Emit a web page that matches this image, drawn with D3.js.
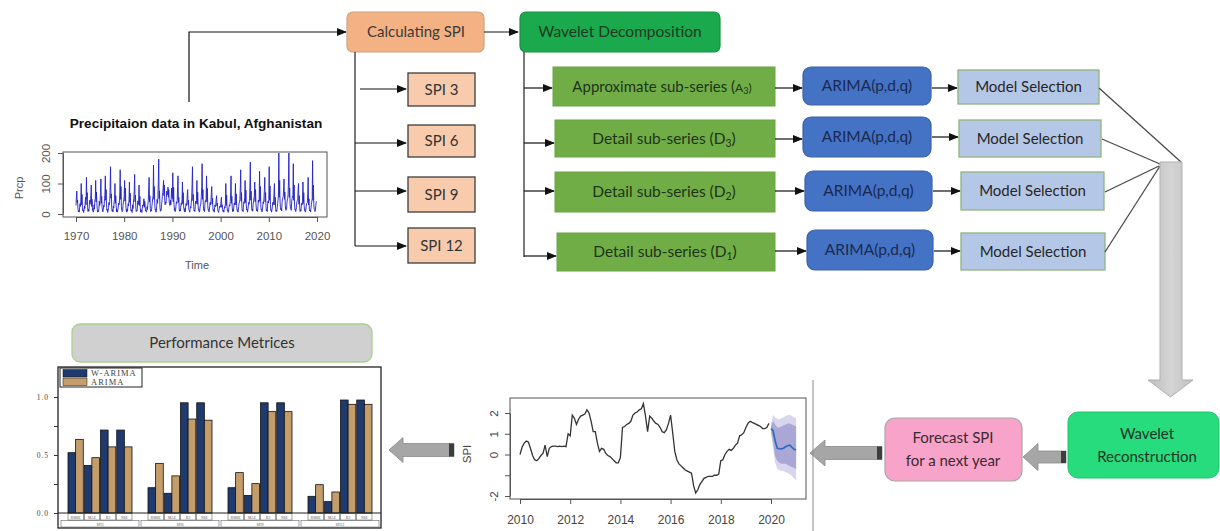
<!DOCTYPE html>
<html>
<head>
<meta charset="utf-8">
<script src="https://cdn.jsdelivr.net/npm/d3@7"></script>
<style>
  html, body { margin: 0; padding: 0; background: #fff; }
  svg { display: block; }
</style>
</head>
<body>
<svg id="fig" width="1220" height="531"></svg>
<script>
// ---------------- data ----------------
// Monthly precipitation (mm), Kabul, Jan..Dec for each year 1970-2019
const prcpStartYear = 1970;
const prcpMonthly = [
  [28, 55, 75, 38, 46, 15, 8, 12, 6, 20, 34, 25],
  [42, 100, 30, 64, 22, 10, 14, 5, 11, 26, 18, 40],
  [55, 30, 120, 48, 70, 20, 8, 15, 9, 24, 45, 32],
  [38, 62, 95, 25, 48, 12, 18, 6, 10, 30, 16, 45],
  [50, 110, 40, 72, 35, 14, 6, 12, 8, 18, 42, 28],
  [44, 70, 115, 35, 58, 22, 10, 7, 16, 28, 24, 50],
  [62, 125, 45, 80, 30, 12, 16, 5, 12, 22, 38, 30],
  [40, 90, 155, 52, 66, 20, 9, 14, 7, 26, 20, 42],
  [48, 100, 35, 60, 28, 8, 15, 6, 13, 20, 36, 30],
  [35, 72, 145, 48, 90, 24, 12, 8, 10, 28, 40, 47],
  [58, 110, 42, 85, 30, 13, 6, 16, 9, 22, 34, 26],
  [46, 105, 38, 68, 25, 10, 14, 7, 5, 30, 18, 39],
  [52, 75, 130, 40, 62, 18, 8, 12, 10, 26, 43, 31],
  [39, 95, 28, 58, 22, 6, 14, 9, 5, 17, 30, 26],
  [30, 50, 22, 42, 35, 10, 12, 6, 9, 24, 15, 32],
  [45, 82, 120, 40, 60, 18, 8, 13, 11, 27, 38, 52],
  [60, 160, 48, 90, 35, 14, 16, 6, 10, 28, 48, 35],
  [55, 110, 180, 50, 76, 22, 9, 14, 12, 32, 40, 60],
  [70, 85, 110, 60, 95, 45, 30, 40, 35, 55, 75, 62],
  [65, 88, 55, 80, 40, 35, 28, 45, 30, 50, 85, 58],
  [50, 135, 40, 88, 32, 12, 18, 8, 14, 28, 40, 35],
  [44, 90, 125, 38, 55, 16, 9, 15, 10, 26, 36, 30],
  [48, 105, 34, 70, 26, 14, 8, 18, 7, 22, 34, 28],
  [36, 62, 80, 30, 45, 14, 12, 6, 14, 24, 20, 38],
  [52, 98, 155, 44, 64, 25, 10, 13, 8, 30, 42, 34],
  [46, 110, 32, 72, 28, 12, 16, 6, 11, 24, 30, 36],
  [58, 90, 165, 48, 80, 28, 12, 15, 8, 32, 44, 40],
  [50, 125, 40, 84, 30, 13, 15, 7, 14, 26, 38, 30],
  [42, 70, 90, 32, 52, 16, 10, 14, 6, 20, 30, 24],
  [30, 48, 60, 26, 36, 12, 9, 5, 12, 18, 26, 22],
  [26, 40, 55, 22, 30, 14, 8, 12, 6, 16, 24, 20],
  [35, 100, 28, 62, 24, 10, 12, 5, 13, 22, 30, 26],
  [40, 72, 125, 35, 58, 20, 8, 15, 9, 26, 36, 30],
  [44, 100, 30, 66, 28, 12, 14, 6, 11, 24, 34, 40],
  [48, 85, 145, 42, 70, 24, 10, 13, 8, 30, 40, 35],
  [55, 110, 38, 78, 30, 13, 16, 6, 15, 26, 38, 32],
  [50, 95, 170, 45, 75, 26, 12, 15, 9, 32, 44, 52],
  [58, 105, 40, 80, 34, 16, 10, 14, 8, 28, 46, 38],
  [46, 140, 42, 90, 30, 13, 15, 7, 12, 26, 40, 34],
  [52, 80, 120, 40, 70, 25, 10, 14, 8, 30, 42, 36],
  [48, 155, 45, 92, 32, 12, 14, 6, 15, 24, 38, 30],
  [40, 72, 100, 30, 55, 18, 8, 13, 9, 22, 34, 45],
  [62, 200, 55, 110, 40, 20, 14, 18, 10, 38, 50, 55],
  [58, 90, 115, 48, 72, 28, 16, 12, 14, 35, 46, 50],
  [64, 105, 200, 55, 85, 34, 18, 15, 12, 40, 52, 58],
  [55, 165, 45, 95, 36, 14, 16, 8, 14, 30, 40, 44],
  [46, 80, 100, 32, 60, 20, 8, 14, 10, 26, 36, 30],
  [42, 105, 35, 70, 28, 12, 15, 6, 12, 24, 34, 36],
  [38, 68, 120, 30, 50, 16, 10, 13, 7, 20, 32, 40],
  [50, 175, 45, 95, 34, 15, 14, 8, 12, 28, 40, 42]
];
const prcpXTicks = [1970, 1980, 1990, 2000, 2010, 2020];
const prcpYTicks = [0, 100, 200];

// Monthly SPI, Jan 2010 .. Dec 2019
const spiStartYear = 2010;
const spiMonthly = [
  [0.0, 0.35, 0.55, 0.65, 0.6, 0.3, -0.05, -0.25, -0.3, -0.2, -0.05, 0.05],
  [0.45, -0.1, 0.3, 0.38, 0.4, 0.4, 0.38, 0.4, 0.38, 0.4, 0.38, 1.0],
  [0.9, 1.9, 1.75, 1.45, 1.7, 1.85, 1.9, 1.95, 2.15, 2.0, 1.6, 1.1],
  [1.1, 0.55, 0.15, 0.3, 0.25, 0.05, -0.05, -0.1, -0.2, -0.3, -0.4, -0.4],
  [-0.15, 1.3, 1.35, 1.45, 1.5, 1.6, 1.9, 2.0, 2.05, 2.15, 2.2, 2.45],
  [1.85, 1.1, 1.85, 1.75, 1.6, 1.5, 1.45, 1.3, 1.1, 1.05, 1.2, 1.5],
  [1.9, 1.05, 0.15, -0.25, -0.45, -0.55, -0.65, -0.75, -0.8, -0.85, -0.9, -1.5],
  [-1.85, -1.7, -1.45, -1.3, -1.15, -1.1, -1.05, -1.05, -1.05, -1.0, -1.0, -0.95],
  [-0.3, -0.25, 0.0, 0.15, 0.25, 0.2, 0.3, 0.45, 0.55, 0.9, 0.95, 1.05],
  [1.3, 1.5, 1.6, 1.55, 1.5, 1.45, 1.4, 1.35, 1.25, 1.25, 1.3, 1.5]
];
// 12-month-ahead forecast from Jan 2020 with 80% and 95% intervals
const fcStartYear = 2020;
const fcMean = [1.25, 1.15, 0.65, 0.3, 0.28, 0.27, 0.3, 0.38, 0.42, 0.45, 0.35, 0.25, 0.22];
const fcLo80 = [1.1, 0.6, -0.1, -0.3, -0.4, -0.45, -0.45, -0.45, -0.5, -0.55, -0.6, -0.65, -0.7];
const fcHi80 = [1.35, 1.6, 1.45, 1.3, 1.3, 1.35, 1.4, 1.45, 1.5, 1.5, 1.45, 1.4, 1.35];
const fcLo95 = [1.0, 0.3, -0.4, -0.7, -0.75, -0.8, -0.8, -0.85, -0.9, -0.95, -1.05, -1.15, -1.25];
const fcHi95 = [1.5, 1.9, 1.8, 1.7, 1.7, 1.75, 1.8, 1.85, 1.9, 1.9, 1.85, 1.8, 1.75];
const spiXTicks = [2010, 2012, 2014, 2016, 2018, 2020];
const spiYTicks = [-2, -1, 0, 1, 2];
const spiYLabels = [-2, 0, 1, 2];

// Performance metrics per SPI time scale
const spiScales = ["SPI3", "SPI6", "SPI9", "SPI12"];
const metricNames = ["RMSE", "MAE", "R2", "NSE"];
const models = ["W-ARIMA", "ARIMA"];
const wArimaScores = [
  [0.52, 0.41, 0.715, 0.715],
  [0.218, 0.17, 0.95, 0.95],
  [0.218, 0.152, 0.95, 0.95],
  [0.144, 0.098, 0.974, 0.974]
];
const arimaScores = [
  [0.635, 0.477, 0.57, 0.57],
  [0.428, 0.32, 0.81, 0.80],
  [0.348, 0.253, 0.874, 0.874],
  [0.244, 0.181, 0.937, 0.937]
];
const scoreTicks = [0, 0.25, 0.5, 0.75, 1.0];

// ---------------- drawing ----------------
const svg = d3.select("#fig");
const FONT = "Lato, 'Open Sans', sans-serif";
const RFONT = "'Liberation Sans', Arial, sans-serif";

const defs = svg.append("defs");
defs.append("marker")
  .attr("id", "head")
  .attr("markerUnits", "userSpaceOnUse")
  .attr("markerWidth", 10).attr("markerHeight", 8)
  .attr("refX", 9).attr("refY", 4)
  .attr("orient", "auto")
  .append("path").attr("d", "M0,0 L10,4 L0,8 Z").attr("fill", "#111");

const vgrad = defs.append("linearGradient").attr("id", "shaftGrad")
  .attr("x1", "0").attr("x2", "1").attr("y1", "0").attr("y2", "0");
vgrad.append("stop").attr("offset", "0").attr("stop-color", "#bdbdbd");
vgrad.append("stop").attr("offset", "0.5").attr("stop-color", "#d4d4d4");
vgrad.append("stop").attr("offset", "1").attr("stop-color", "#c2c2c2");

function box(x, y, w, h, fill, stroke, rx, sw) {
  return svg.append("rect")
    .attr("x", x).attr("y", y).attr("width", w).attr("height", h)
    .attr("rx", rx || 0).attr("ry", rx || 0)
    .attr("fill", fill)
    .attr("stroke", stroke || "none")
    .attr("stroke-width", sw || 1);
}
function label(x, y, txt, size, color, opts) {
  opts = opts || {};
  return svg.append("text")
    .attr("x", x).attr("y", y)
    .attr("text-anchor", opts.anchor || "middle")
    .attr("dy", "0.35em")
    .attr("font-family", opts.family || FONT)
    .attr("font-size", size)
    .attr("font-weight", opts.weight || "normal")
    .attr("fill", color)
    .text(txt);
}
function arrow(d) {
  return svg.append("path").attr("d", d)
    .attr("fill", "none").attr("stroke", "#111").attr("stroke-width", 1.2)
    .attr("marker-end", "url(#head)");
}
// thick grey block arrow pointing left
function blockArrowLeft(tip, tail, yc, hs, hh, hl) {
  const p = d3.path();
  p.moveTo(tip, yc);
  p.lineTo(tip + hl, yc - hh);
  p.lineTo(tip + hl, yc - hs);
  p.lineTo(tail, yc - hs);
  p.lineTo(tail, yc + hs);
  p.lineTo(tip + hl, yc + hs);
  p.lineTo(tip + hl, yc + hh);
  p.closePath();
  svg.append("path").attr("d", p.toString())
    .attr("fill", "#a6a6a6").attr("stroke", "#8a8a8a").attr("stroke-width", 0.8);
  svg.append("rect").attr("x", tail - 5).attr("y", yc - hs).attr("width", 5).attr("height", 2 * hs)
    .attr("fill", "#3d3d3d");
}

// ---- top row ----
arrow("M189,102 V32 H346");
box(347, 12, 137, 40, "#f4b183", "#c9a57c", 6, 1.2);
label(416, 32, "Calculating SPI", 15, "#3a3a3a");
arrow("M484,32 H518");
box(520, 12, 200, 40, "#1aa94c", "#149440", 6, 1.2);
label(620, 32, "Wavelet Decomposition", 15.5, "#1e3a22");

// ---- SPI branches ----
svg.append("path").attr("d", "M355,52 V246").attr("stroke", "#222").attr("stroke-width", 1.2).attr("fill", "none");
const spiBoxes = [
  { t: "SPI 3", y: 73, h: 33, ay: 89, ax: 360 },
  { t: "SPI 6", y: 125, h: 32, ay: 143, ax: 355 },
  { t: "SPI 9", y: 177, h: 35, ay: 191, ax: 355 },
  { t: "SPI 12", y: 228, h: 35, ay: 246, ax: 355 }
];
spiBoxes.forEach(b => {
  arrow(`M${b.ax},${b.ay} H406`);
  box(408, b.y, 67, b.h, "#f8cbad", "#3d3d3d", 0, 1.3);
  label(441.5, b.y + b.h / 2, b.t, 15, "#333");
});

// ---- wavelet branches ----
svg.append("path").attr("d", "M524,52 V257").attr("stroke", "#222").attr("stroke-width", 1.2).attr("fill", "none");
const subRows = [
  { main: "Approximate sub-series (", sym: "A", sub: "3", close: ")", gx: 553, gy: 67, gw: 222, gh: 39, ay: 88,
    ax: 803, aw: 128, ayb: 67, ah: 38, mx: 958, mw: 141, my: 70, mh: 34, aly: 88, msy: 88 },
  { main: "Detail sub-series (", sym: "D", sub: "3", close: ")", gx: 555, gy: 120, gw: 220, gh: 37, ay: 143,
    ax: 803, aw: 128, ayb: 117, ah: 40, mx: 959, mw: 142, my: 120, mh: 37, aly: 139, msy: 137 },
  { main: "Detail sub-series (", sym: "D", sub: "2", close: ")", gx: 555, gy: 172, gw: 220, gh: 40, ay: 191,
    ax: 805, aw: 127, ayb: 171, ah: 40, mx: 961, mw: 143, my: 172, mh: 38, aly: 191, msy: 191 },
  { main: "Detail sub-series (", sym: "D", sub: "1", close: ")", gx: 557, gy: 233, gw: 218, gh: 38, ay: 256,
    ax: 807, aw: 126, ayb: 230, ah: 40, mx: 961, mw: 144, my: 233, mh: 37, aly: 251, msy: 251 }
];
subRows.forEach((r, i) => {
  arrow(`M524,${r.ay} H${r.gx - 1}`);
  box(r.gx, r.gy, r.gw, r.gh, "#70ad47", "#6aa443", 0, 1);
  const t = svg.append("text")
    .attr("x", r.gx + r.gw / 2 - (i === 0 ? 2 : 1)).attr("y", r.gy + r.gh / 2)
    .attr("dy", "0.35em").attr("text-anchor", "middle")
    .attr("font-family", FONT).attr("font-size", i === 0 ? 15 : 15.5).attr("fill", "#1f3317");
  if (i === 0) {
    t.append("tspan").text(r.main);
    t.append("tspan").attr("font-size", 12).text(r.sym);
    t.append("tspan").attr("font-size", 9).attr("dy", "2").text(r.sub);
    t.append("tspan").attr("font-size", 12).attr("dy", "-2").text(r.close);
  } else {
    t.append("tspan").text(r.main + r.sym);
    t.append("tspan").attr("font-size", 10.5).attr("dy", "3").text(r.sub);
    t.append("tspan").attr("dy", "-3").text(r.close);
  }
  // ARIMA
  arrow(`M775,${r.aly} H${r.ax - 1}`);
  box(r.ax, r.ayb, r.aw, r.ah, "#4472c4", "#3a62aa", 8, 1.2);
  label(r.ax + r.aw / 2, r.ayb + r.ah / 2, "ARIMA(p,d,q)", 15.5, "#1b2a50");
  // Model selection
  arrow(`M${r.ax + r.aw + 1},${r.msy} H${r.mx - 1}`);
  box(r.mx, r.my, r.mw, r.mh, "#b4c7e7", "#8fb57a", 0, 1.3);
  label(r.mx + r.mw / 2, r.my + r.mh / 2, "Model Selection", 15, "#262626");
});

// converging lines to the reconstruction arrow
["M1099,88 L1181,162", "M1102,139 L1160,164", "M1105,192 L1159,166", "M1105,252 L1160,166"]
  .forEach(d => svg.append("path").attr("d", d).attr("stroke", "#4a4a4a").attr("stroke-width", 1.3).attr("fill", "none"));

// big vertical arrow
svg.append("path")
  .attr("d", "M1160,162 H1182 V380 H1193 L1170.5,397 L1148,380 H1160 Z")
  .attr("fill", "url(#shaftGrad)").attr("stroke", "#b0b0b0").attr("stroke-width", 1);

// ---- bottom row boxes ----
box(1068, 412, 151, 66, "#27dc7c", "#20c56d", 10, 1);
label(1147, 434, "Wavelet", 15, "#1e3326");
label(1147, 457, "Reconstruction", 15, "#1e3326");
blockArrowLeft(1023, 1066, 457, 6, 13.5, 15);

box(885, 418, 137, 63, "#f8a3c9", "#a8a8a8", 10, 1.2);
label(953, 438, "Forecast SPI", 15, "#3a2a32");
label(953, 461, "for a next year", 15, "#3a2a32");
blockArrowLeft(810, 882, 453, 6.5, 13, 15);

svg.append("path").attr("d", "M813,380 V531").attr("stroke", "#8c8c8c").attr("stroke-width", 1);

blockArrowLeft(389, 454, 450, 6.5, 12.5, 14);

box(72, 324, 300, 38, "#d0d0d0", "#a9d18e", 8, 1.3);
label(222, 343, "Performance Metrices", 15, "#333");

// ---------------- precipitation chart ----------------
(function () {
  const prcp = [];
  prcpMonthly.forEach((row, yi) => row.forEach((v, m) => prcp.push({ t: prcpStartYear + yi + m / 12, v })));
  const x = d3.scaleLinear().domain([1970, 2020]).range([76, 317]);
  const y = d3.scaleLinear().domain([0, 200]).range([214, 153]);
  const g = svg.append("g");
  g.append("text").attr("x", 196).attr("y", 127.5).attr("text-anchor", "middle")
    .attr("font-family", RFONT).attr("font-weight", "bold").attr("font-size", 13.6).attr("fill", "#111")
    .text("Precipitaion data in Kabul, Afghanistan");
  g.append("path").datum(prcp)
    .attr("d", d3.line().x(d => x(d.t)).y(d => y(d.v)))
    .attr("fill", "none").attr("stroke", "#2222c4").attr("stroke-width", 1).attr("stroke-opacity", 0.9);
  g.append("rect").attr("x", 63).attr("y", 152).attr("width", 264).attr("height", 65)
    .attr("fill", "none").attr("stroke", "#555").attr("stroke-width", 1);
  const xa = g.append("g").attr("transform", "translate(0,217)")
    .call(d3.axisBottom(x).tickValues(prcpXTicks).tickFormat(d3.format("d")).tickSize(5).tickSizeOuter(0));
  xa.select(".domain").attr("stroke", "#555");
  xa.selectAll(".tick line").attr("stroke", "#555");
  xa.selectAll(".tick text").attr("font-family", RFONT).attr("font-size", 11.5).attr("fill", "#555").attr("dy", "1.3em");
  const ya = g.append("g").attr("transform", "translate(63,0)")
    .call(d3.axisLeft(y).tickValues(prcpYTicks).tickSize(5).tickSizeOuter(0));
  ya.select(".domain").attr("stroke", "#555");
  ya.selectAll(".tick line").attr("stroke", "#555");
  ya.selectAll(".tick text").attr("font-family", RFONT).attr("font-size", 11.5).attr("fill", "#555")
    .attr("text-anchor", "middle").attr("x", 0).attr("dy", 0)
    .attr("transform", "translate(-13,0) rotate(-90)");
  g.append("text").attr("transform", "translate(23,188) rotate(-90)").attr("text-anchor", "middle")
    .attr("font-family", RFONT).attr("font-size", 11).attr("fill", "#555").text("Prcp");
  g.append("text").attr("x", 197).attr("y", 269).attr("text-anchor", "middle")
    .attr("font-family", RFONT).attr("font-size", 11).attr("fill", "#555").text("Time");
})();

// ---------------- SPI forecast chart ----------------
(function () {
  const hist = [];
  spiMonthly.forEach((row, yi) => row.forEach((v, m) => hist.push({ t: spiStartYear + yi + m / 12, v })));
  const fc = fcMean.map((v, i) => ({
    t: fcStartYear + i / 12, v, lo80: fcLo80[i], hi80: fcHi80[i], lo95: fcLo95[i], hi95: fcHi95[i]
  }));
  const x = d3.scaleLinear().domain([2010, 2020]).range([520, 771]);
  const y = d3.scaleLinear().domain([-2, 2]).range([496, 413]);
  const g = svg.append("g");
  g.append("path").datum(fc)
    .attr("d", d3.area().x(d => x(d.t)).y0(d => y(d.lo95)).y1(d => y(d.hi95)))
    .attr("fill", "#d8d6ec");
  g.append("path").datum(fc)
    .attr("d", d3.area().x(d => x(d.t)).y0(d => y(d.lo80)).y1(d => y(d.hi80)))
    .attr("fill", "#aaa7d6");
  g.append("path").datum(hist)
    .attr("d", d3.line().x(d => x(d.t)).y(d => y(d.v)))
    .attr("fill", "none").attr("stroke", "#333").attr("stroke-width", 1.3);
  g.append("path").datum(fc)
    .attr("d", d3.line().x(d => x(d.t)).y(d => y(d.v)))
    .attr("fill", "none").attr("stroke", "#2a6cc4").attr("stroke-width", 1.7);
  g.append("rect").attr("x", 510).attr("y", 398).attr("width", 296).attr("height", 101)
    .attr("fill", "none").attr("stroke", "#555").attr("stroke-width", 1);
  const xa = g.append("g").attr("transform", "translate(0,499)")
    .call(d3.axisBottom(x).tickValues(spiXTicks).tickFormat(d3.format("d")).tickSize(5).tickSizeOuter(0));
  xa.select(".domain").attr("stroke", "#555");
  xa.selectAll(".tick line").attr("stroke", "#555");
  xa.selectAll(".tick text").attr("font-family", RFONT).attr("font-size", 12).attr("fill", "#444").attr("dy", "1.45em");
  const ya = g.append("g").attr("transform", "translate(510,0)")
    .call(d3.axisLeft(y).tickValues(spiYTicks).tickSize(5).tickSizeOuter(0)
      .tickFormat(d => spiYLabels.includes(d) ? String(d) : ""));
  ya.select(".domain").attr("stroke", "#555");
  ya.selectAll(".tick line").attr("stroke", "#555");
  ya.selectAll(".tick text").attr("font-family", RFONT).attr("font-size", 11.5).attr("fill", "#444")
    .attr("text-anchor", "middle").attr("x", 0).attr("dy", 0)
    .attr("transform", "translate(-12,0) rotate(-90)");
  g.append("text").attr("transform", "translate(471,454) rotate(-90)").attr("text-anchor", "middle")
    .attr("font-family", RFONT).attr("font-size", 11.5).attr("fill", "#444").text("SPI");
})();

// ---------------- performance bar chart ----------------
(function () {
  const gx = d3.scaleBand().domain(spiScales).range([60, 380]);
  const mx = d3.scaleBand().domain(metricNames).range([8, 72]).paddingInner(0.06);
  const sx = d3.scaleBand().domain(models).range([0, mx.bandwidth()]);
  const y = d3.scaleLinear().domain([0, 1]).range([513, 397]);
  const colors = { "W-ARIMA": "#1f3a6e", "ARIMA": "#c59d6b" };
  const rows = [];
  spiScales.forEach((s, gi) => metricNames.forEach((m, mi) => {
    rows.push({ s, m, model: "W-ARIMA", v: wArimaScores[gi][mi] });
    rows.push({ s, m, model: "ARIMA", v: arimaScores[gi][mi] });
  }));
  const g = svg.append("g");
  g.append("rect").attr("x", 58).attr("y", 367).attr("width", 323).attr("height", 161)
    .attr("fill", "#fff").attr("stroke", "#222").attr("stroke-width", 1.3);
  g.selectAll("rect.bar").data(rows).join("rect").attr("class", "bar")
    .attr("x", d => gx(d.s) + mx(d.m) + sx(d.model))
    .attr("y", d => y(d.v))
    .attr("width", sx.bandwidth())
    .attr("height", d => y(0) - y(d.v))
    .attr("fill", d => colors[d.model])
    .attr("stroke", "#111").attr("stroke-width", 0.8);
  // baseline and category table
  g.append("line").attr("x1", 58).attr("x2", 381).attr("y1", 513).attr("y2", 513).attr("stroke", "#222").attr("stroke-width", 1);
  const step = mx.step();
  spiScales.forEach(s => {
    metricNames.forEach(m => {
      const cx = gx(s) + mx(m) + mx.bandwidth() / 2;
      g.append("rect").attr("x", cx - step / 2 + 0.5).attr("y", 513.5).attr("width", step - 1).attr("height", 6.5)
        .attr("fill", "none").attr("stroke", "#444").attr("stroke-width", 0.5);
      g.append("text").attr("x", cx).attr("y", 518.5).attr("text-anchor", "middle")
        .attr("font-family", "'Liberation Serif', serif").attr("font-size", 3.6).attr("fill", "#555").text(m);
    });
    g.append("rect").attr("x", gx(s) + 1).attr("y", 520.5).attr("width", gx.bandwidth() - 2).attr("height", 6.5)
      .attr("fill", "none").attr("stroke", "#444").attr("stroke-width", 0.5);
    g.append("text").attr("x", gx(s) + gx.bandwidth() / 2).attr("y", 525.5).attr("text-anchor", "middle")
      .attr("font-family", "'Liberation Serif', serif").attr("font-size", 3.6).attr("fill", "#555").text(s);
  });
  const ya = g.append("g").attr("transform", "translate(58,0)")
    .call(d3.axisLeft(y).tickValues(scoreTicks).tickSize(4).tickSizeOuter(0)
      .tickFormat(d => (d * 2) % 1 === 0 ? d3.format(".1f")(d) : ""));
  ya.select(".domain").remove();
  ya.selectAll(".tick line").attr("stroke", "#333");
  ya.selectAll(".tick text").attr("font-family", "'Liberation Serif', serif").attr("font-size", 7.5)
    .attr("letter-spacing", "1px").attr("fill", "#444").attr("x", -9);
  // legend
  const lg = g.append("g");
  lg.append("rect").attr("x", 60).attr("y", 368).attr("width", 82).attr("height", 19)
    .attr("fill", "#fff").attr("stroke", "#222").attr("stroke-width", 1);
  models.forEach((m, i) => {
    lg.append("rect").attr("x", 63).attr("y", 369.5 + i * 8.5).attr("width", 24).attr("height", 7.5)
      .attr("fill", colors[m]).attr("stroke", "#111").attr("stroke-width", 0.5);
    lg.append("text").attr("x", 91).attr("y", 376 + i * 8.5)
      .attr("font-family", "'Liberation Serif', serif").attr("font-size", 8.5).attr("letter-spacing", "1px")
      .attr("fill", "#444").text(m);
  });
})();
</script>
</body>
</html>
